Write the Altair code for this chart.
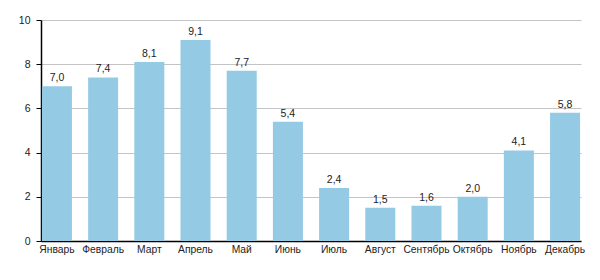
import altair as alt
import pandas as pd

months = ["Январь", "Февраль", "Март", "Апрель", "Май", "Июнь", "Июль",
          "Август", "Сентябрь", "Октябрь", "Ноябрь", "Декабрь"]
values = [7.0, 7.4, 8.1, 9.1, 7.7, 5.4, 2.4, 1.5, 1.6, 2.0, 4.1, 5.8]
labels = ["7,0", "7,4", "8,1", "9,1", "7,7", "5,4", "2,4", "1,5", "1,6", "2,0", "4,1", "5,8"]

df = pd.DataFrame({"month": months, "value": values, "label": labels})

x = alt.X("month:N", sort=months, title=None,
          scale=alt.Scale(paddingInner=0.35, paddingOuter=0.02),
          axis=alt.Axis(labelAngle=0, ticks=False, domainColor="#000", domainWidth=1.5,
                        labelFont="Liberation Sans", labelFontSize=10.3, labelColor="#222",
                        labelPadding=3, labelOverlap=False))
y = alt.Y("value:Q", title=None,
          scale=alt.Scale(domain=[0, 10], nice=False),
          axis=alt.Axis(values=list(range(0, 11)),
                        labelExpr="datum.value % 2 == 0 ? datum.label : ''",
                        gridColor="#c4c4c4", gridWidth=1, domainColor="#000", domainWidth=1.5,
                        tickColor="#000", tickSize=5, labelFont="Liberation Sans",
                        labelFontSize=10.5, labelColor="#222", labelPadding=6))

bars = alt.Chart(df).mark_bar(color="#95cae4").encode(x=x, y=y)
text = alt.Chart(df).mark_text(baseline="bottom", dy=-3, font="Liberation Sans",
                               fontSize=10.5, color="#222").encode(
    x=alt.X("month:N", sort=months), y="value:Q", text="label:N")

chart = (bars + text).properties(
    width=540, height=221,
    autosize=alt.AutoSizeParams(type="none"),
    padding={"left": 41, "top": 20, "right": 19, "bottom": 39},
).configure_view(stroke=None).configure_axisX(grid=False)

chart.save("out.html", embed_options={"renderer": "svg", "actions": False})
